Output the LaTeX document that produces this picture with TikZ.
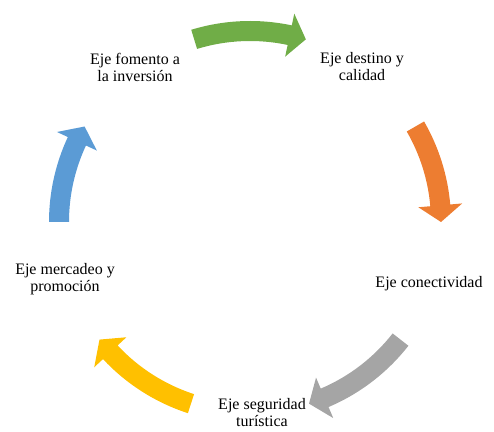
\documentclass[tikz,border=0pt]{standalone}
\usepackage{fontspec}
\setmainfont{Liberation Serif}
\definecolor{cgreen}{HTML}{70AD47}
\definecolor{corange}{HTML}{ED7D31}
\definecolor{cgray}{HTML}{A5A5A5}
\definecolor{cyellow}{HTML}{FFC000}
\definecolor{cblue}{HTML}{5B9BD5}
\newcommand\cycarrow[3]{%
  \fill[#1] (#2:201) arc[start angle=#2, end angle={#3+5}, radius=201]
    -- ({#3+5}:213) -- (#3:191) -- ({#3+5}:169) -- ({#3+5}:181)
    arc[start angle={#3+5}, end angle=#2, radius=181] -- cycle;}
\begin{document}
\begin{tikzpicture}[x=1pt,y=1pt,
  lbl/.style={align=center, font=\fontsize{16}{17}\selectfont, inner sep=0pt}]
\useasboundingbox (0,0) rectangle (494,431);
\begin{scope}[shift={(250,209)}]
  \cycarrow{cgreen}{107}{73}
  \cycarrow{corange}{30}{0}
  \cycarrow{cgray}{-38}{-72}
  \cycarrow{cyellow}{-108}{-142}
  \cycarrow{cblue}{180}{150}
\end{scope}
\node[lbl] (fom) at (135,364) {Eje fomento a\\la inversión};
\node[lbl] (des) at (362,364) {Eje destino y\\calidad};
\node[lbl] (con) at (429,147) {Eje conectividad};
\node[lbl] (seg) at (262,18) {Eje seguridad\\turística};
\node[lbl] (mer) at (65,152) {Eje mercadeo y\\promoción};
\end{tikzpicture}
\end{document}
